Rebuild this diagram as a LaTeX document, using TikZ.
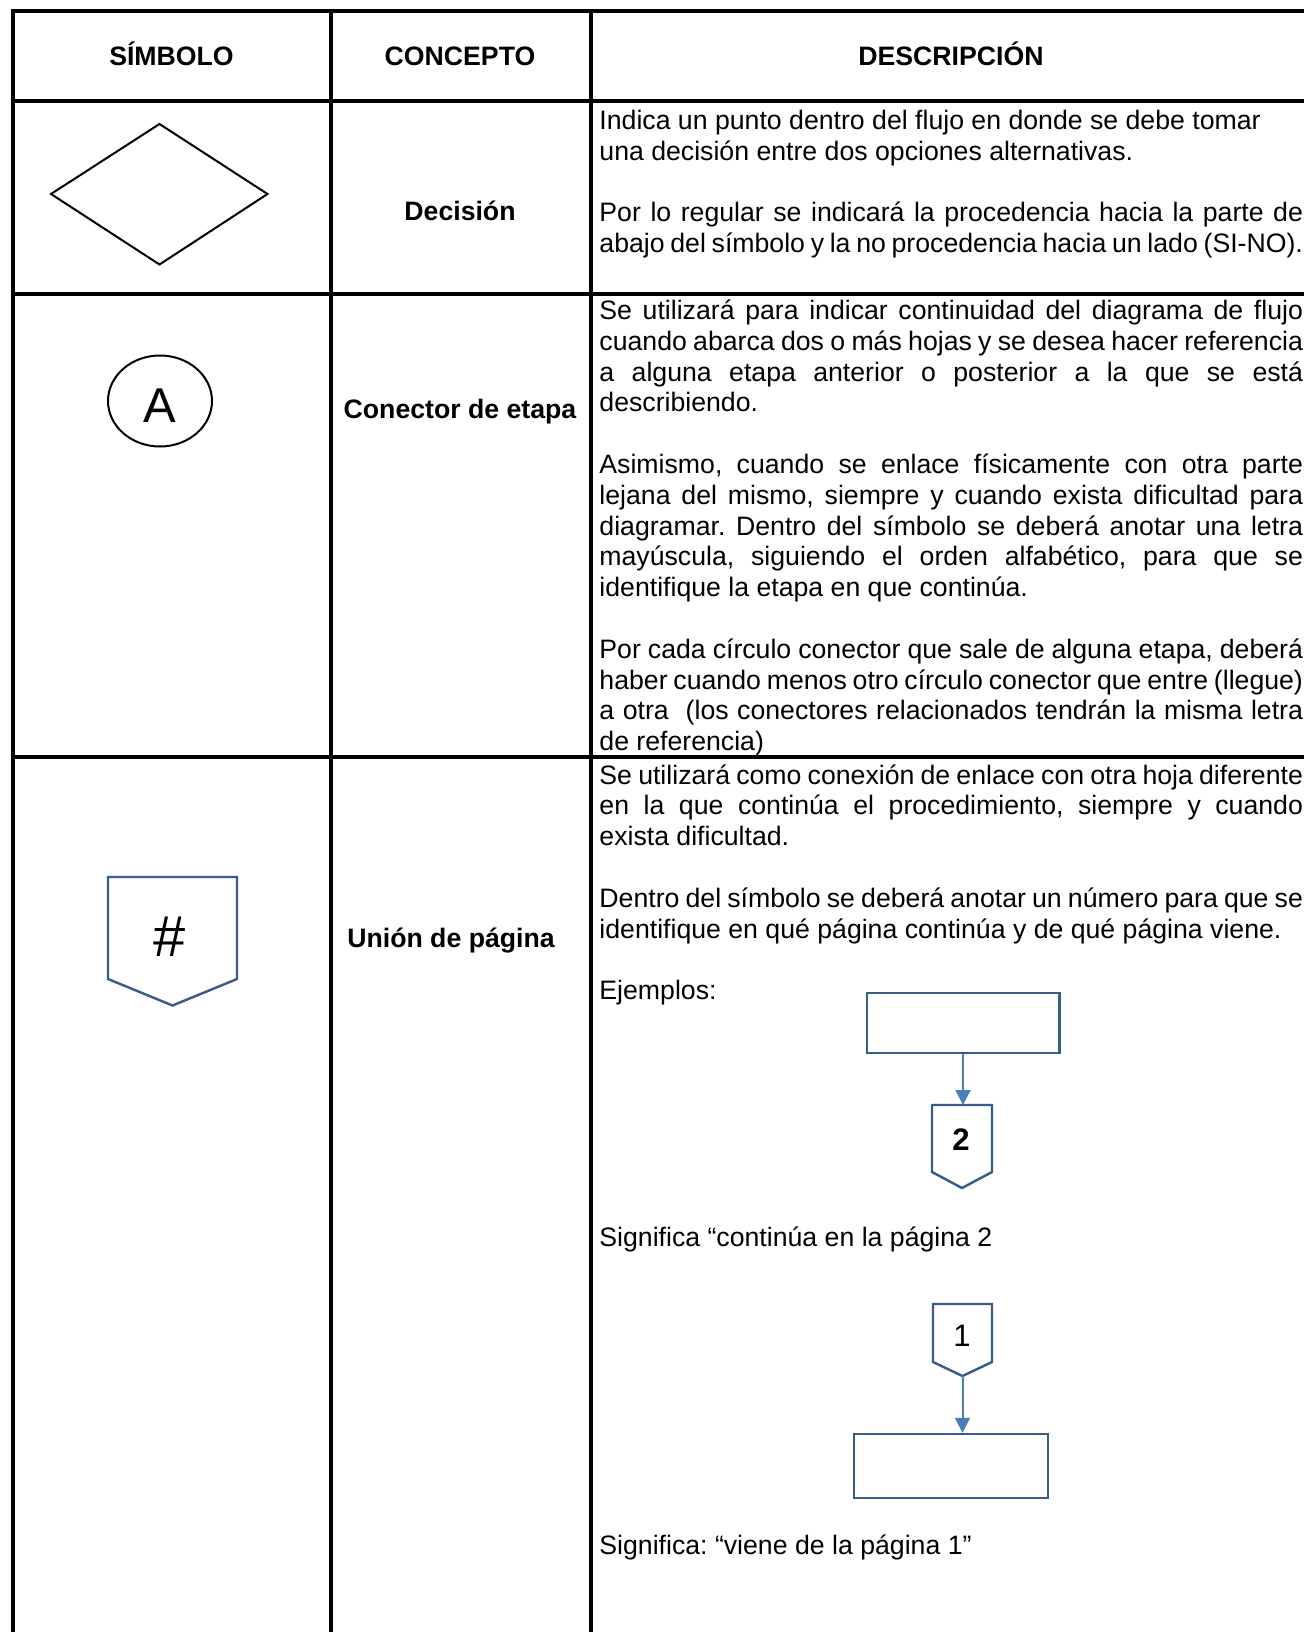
\documentclass[tikz,border=0pt]{standalone}
\usepackage{fontspec}
\setmainfont{Liberation Sans}
\usetikzlibrary{arrows.meta,shapes.geometric}
\frenchspacing
\newlength\dw
\setlength\dw{316.6pt}
\newcommand\pxu{0.45pt}
\newcommand\JL[1]{\makebox[\dw][s]{#1}}
\definecolor{shpblue}{RGB}{56,93,138}
\definecolor{arrblue}{RGB}{74,126,187}
\begin{document}
\begin{tikzpicture}[x=0.45pt,y=-0.45pt,
  tbl/.style={line width=1.8pt,black},
  txt/.style={inner sep=0,anchor=base west,font=\fontsize{12}{14}\selectfont},
  hdr/.style={inner sep=0,anchor=base,font=\fontsize{12}{14}\selectfont\bfseries},
  symline/.style={line width=0.9pt,black},
  pent/.style={line width=1.1pt,shpblue,line join=miter},
  boxst/.style={draw=shpblue,line width=1.1pt,rectangle,inner sep=0},
  conn/.style={line width=0.9pt,arrblue,-{Triangle[length=6.75pt,width=6.75pt]}}]
\useasboundingbox (0,0) rectangle (1304,1632);
\clip (0,0) rectangle (1304,1632);
\fill[white] (0,0) rectangle (1304,1632);

% table grid
\draw[tbl] (10.5,11.5) -- (1330,11.5);
\draw[tbl] (10.5,101.5) -- (1330,101.5);
\draw[tbl] (10.5,294) -- (1330,294);
\draw[tbl] (10.5,756.5) -- (1330,756.5);
\draw[tbl] (12.5,9.5) -- (12.5,1650);
\draw[tbl] (331,9.5) -- (331,1650);
\draw[tbl] (590.5,9.5) -- (590.5,1650);

% header
\node[hdr] (h1) at (171.5,65.5) {SÍMBOLO};
\node[hdr] (h2) at (460,65.5) {CONCEPTO};
\node[hdr] (h3) at (951,65.5) {DESCRIPCIÓN};

% concepts
\node[hdr] (c1) at (460,220) {Decisión};
\node[hdr] (c2) at (460,418) {Conector de etapa};
\node[hdr] (c3) at (451,947) {Unión de página};

% symbols
\draw[symline] (51,194) -- (159.5,124) -- (267.5,194) -- (159.5,264.5) -- cycle;
\node[draw,ellipse,symline,inner sep=0,minimum width={104*\pxu},minimum height={91*\pxu}] (conA) at (160,401) {};
\node[inner sep=0,font=\fontsize{22}{24}\selectfont] (lblA) at (160,406) {A};
\draw[pent] (108,877) -- (237,877) -- (237,979) -- (172.5,1005.5) -- (108,979) -- cycle;
\node[inner sep=0,font=\fontsize{26}{28}\selectfont] (lblH) at (170,937) {\#};

% row 1 description
\node[txt] (d1) at (599,129.5) {Indica un punto dentro del flujo en donde se debe tomar};
\node[txt] (d2) at (599,160.3) {una decisión entre dos opciones alternativas.};
\node[txt] (d3) at (599,221.9) {\JL{Por lo regular se indicará la procedencia hacia la parte de}};
\node[txt] (d4) at (599,252.7) {\JL{abajo del símbolo y la no procedencia hacia un lado (SI-NO).}};

% row 2 description
\node[txt] (e1) at (599,319.5) {\JL{Se utilizará para indicar continuidad del diagrama de flujo}};
\node[txt] (e2) at (599,350.3) {\JL{cuando abarca dos o más hojas y se desea hacer referencia}};
\node[txt] (e3) at (599,381.1) {\JL{a alguna etapa anterior o posterior a la que se está}};
\node[txt] (e4) at (599,411.9) {describiendo.};
\node[txt] (e5) at (599,473.5) {\JL{Asimismo, cuando se enlace físicamente con otra parte}};
\node[txt] (e6) at (599,504.3) {\JL{lejana del mismo, siempre y cuando exista dificultad para}};
\node[txt] (e7) at (599,535.1) {\JL{diagramar. Dentro del símbolo se deberá anotar una letra}};
\node[txt] (e8) at (599,565.9) {\JL{mayúscula, siguiendo el orden alfabético, para que se}};
\node[txt] (e9) at (599,596.7) {identifique la etapa en que continúa.};
\node[txt] (e10) at (599,658.3) {\JL{Por cada círculo conector que sale de alguna etapa, deberá}};
\node[txt] (e11) at (599,689.1) {\JL{haber cuando menos otro círculo conector que entre (llegue)}};
\node[txt] (e12) at (599,719.9) {\JL{a otra\ \ (los conectores relacionados tendrán la misma letra}};
\node[txt] (e13) at (599,750.7) {de referencia)};

% row 3 description
\node[txt] (f1) at (599,784) {\JL{Se utilizará como conexión de enlace con otra hoja diferente}};
\node[txt] (f2) at (599,814.8) {\JL{en la que continúa el procedimiento, siempre y cuando}};
\node[txt] (f3) at (599,845.6) {exista dificultad.};
\node[txt] (f4) at (599,907.2) {\JL{Dentro del símbolo se deberá anotar un número para que se}};
\node[txt] (f5) at (599,938) {identifique en qué página continúa y de qué página viene.};
\node[txt] (f6) at (599,999.6) {Ejemplos:};
\node[txt] (f7) at (599,1246.5) {Significa “continúa en la página 2};
\node[txt] (f8) at (599,1554.5) {Significa: “viene de la página 1”};

% example 1
\node[boxst,minimum width={192.5*\pxu},minimum height={60*\pxu}] (b1) at (963.25,1023) {};
\draw[pent] (932,1105) -- (992,1105) -- (992,1172) -- (962,1188) -- (932,1172) -- cycle;
\coordinate (p2top) at (963,1105);
\node[inner sep=0,font=\fontsize{14}{16}\selectfont\bfseries] (lbl2) at (961,1140) {2};
\draw[conn] (b1.south -| p2top) -- (p2top);

% example 2
\draw[pent] (933,1304) -- (992,1304) -- (992,1362) -- (962.5,1376) -- (933,1362) -- cycle;
\coordinate (p1bot) at (962.5,1376);
\node[inner sep=0,font=\fontsize{14}{16}\selectfont] (lbl1) at (962,1336) {1};
\node[boxst,minimum width={194*\pxu},minimum height={64*\pxu}] (b2) at (951,1466) {};
\draw[conn] (p1bot) -- (p1bot |- b2.north);
\end{tikzpicture}
\end{document}
